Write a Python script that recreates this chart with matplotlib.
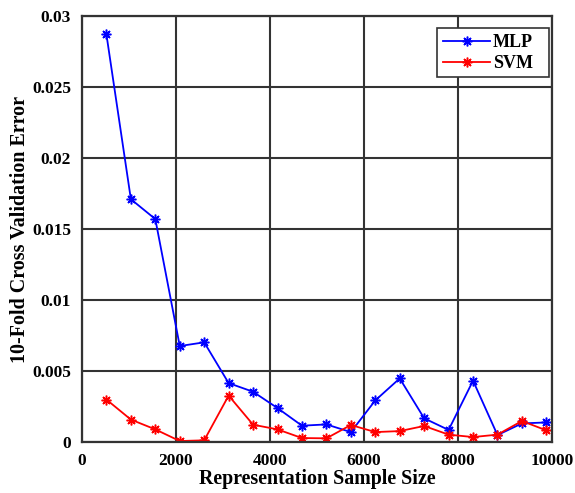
import numpy as np
import matplotlib
matplotlib.use("Agg")
import matplotlib.pyplot as plt
from matplotlib.patches import Rectangle

plt.rcParams['font.family'] = ['Liberation Serif', 'DejaVu Serif']
plt.rcParams['font.weight'] = 'bold'

sample_size = [520 * k for k in range(1, 20)]
mlp_error = [0.0287, 0.0171, 0.0157, 0.00676, 0.00702, 0.00415, 0.00354, 0.00239,
             0.00115, 0.00124, 0.0007, 0.00293, 0.00448, 0.00167, 0.00085, 0.00432,
             0.00049, 0.00131, 0.00138]
svm_error = [0.00299, 0.00158, 0.00089, 0.00007, 0.00012, 0.00327, 0.00122, 0.00089,
             0.00028, 0.00026, 0.0012, 0.0007, 0.00077, 0.00113, 0.00052, 0.00035,
             0.00052, 0.00148, 0.00082]
x_ticks = [0, 2000, 4000, 6000, 8000, 10000]
y_ticks = [0, 0.005, 0.01, 0.015, 0.02, 0.025, 0.03]
y_tick_labels = ['0', '0.005', '0.01', '0.015', '0.02', '0.025', '0.03']

fig = plt.figure(figsize=(5.75, 4.93), dpi=100)
ax = fig.add_axes([0.1426, 0.1034, 0.8174, 0.8641])

asterisk = (8, 2, 0)
ax.plot(sample_size, mlp_error, color='#0000ff', marker=asterisk, markersize=7,
        markeredgewidth=1.1, linewidth=1.3, label='MLP')
ax.plot(sample_size, svm_error, color='#ff0000', marker=asterisk, markersize=7,
        markeredgewidth=1.1, linewidth=1.3, label='SVM')

ax.set_xlim(0, 10000)
ax.set_ylim(0, 0.03)
ax.set_xticks(x_ticks)
ax.set_yticks(y_ticks)
ax.set_yticklabels(y_tick_labels)
ax.tick_params(axis='both', labelsize=12.5, direction='in', length=0)
ax.tick_params(axis='y', pad=8)
ax.tick_params(axis='x', pad=8)
for lbl in ax.get_xticklabels() + ax.get_yticklabels():
    lbl.set_fontweight('bold')

ax.grid(True, color='#333333', linewidth=1.5, linestyle='-')
ax.set_axisbelow(True)
for s in ax.spines.values():
    s.set_linewidth(1.6)
    s.set_color('#333333')

ax.set_xlabel('Representation Sample Size', fontsize=14.4, fontweight='bold', labelpad=0)
ax.set_ylabel('10-Fold Cross Validation Error', fontsize=14.4, fontweight='bold', labelpad=1.5)

# legend box drawn separately so it can be wider than its contents
box = Rectangle((0.7553, 0.8568), 0.2383, 0.1150, transform=ax.transAxes,
                facecolor='white', edgecolor='#333333', linewidth=1.2, zorder=4.9)
ax.add_patch(box)
leg = ax.legend(loc='upper left', bbox_to_anchor=(0.7553, 0.9718), fontsize=13,
                frameon=False, borderaxespad=0, handlelength=2.6, handletextpad=0.15,
                borderpad=0.35, labelspacing=0.2)
leg.set_zorder(5)
for t in leg.get_texts():
    t.set_fontweight('bold')

fig.savefig('out.png', dpi=100)
